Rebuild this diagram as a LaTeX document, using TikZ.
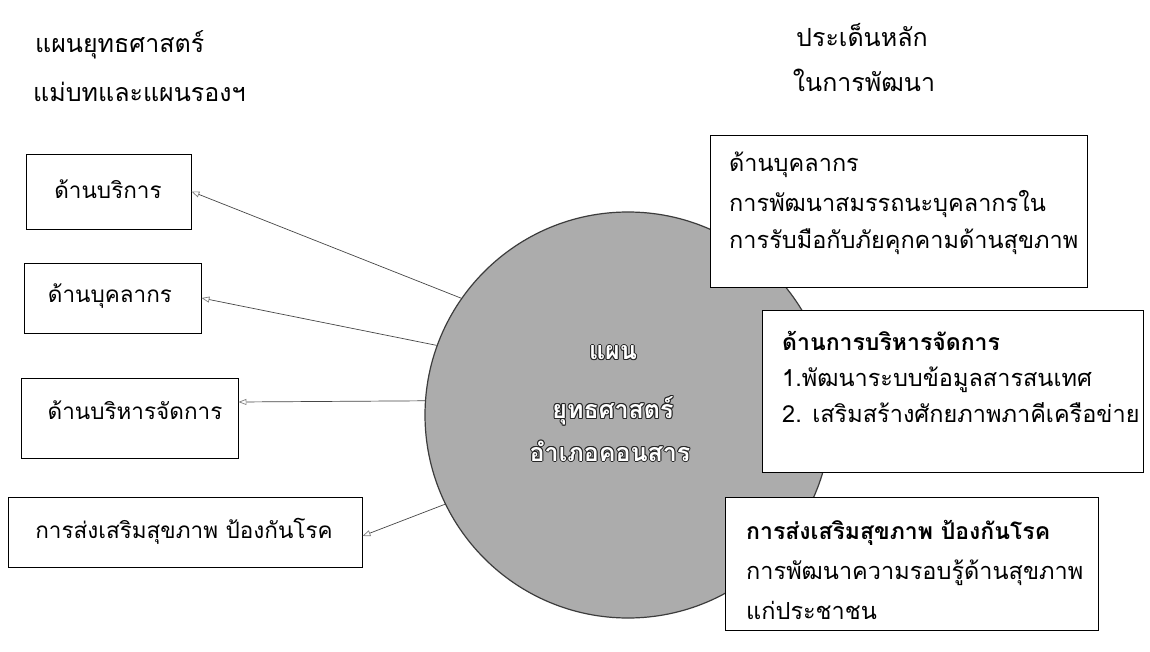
\documentclass[tikz,border=0pt]{standalone}
\usepackage{fontspec}
\newfontfamily\thai[Script=Thai]{Loma}
\usetikzlibrary{arrows.meta}
\tikzset{
  box/.style={draw=black, line width=0.9pt, fill=white, inner sep=0pt},
  txt/.style={font=\thai\fontsize{22.5}{26}\selectfont, inner sep=0pt},
  rtxt/.style={font=\thai\fontsize{23.5}{26}\selectfont, inner sep=0pt},
  htxt/.style={font=\thai\fontsize{25}{28}\selectfont, inner sep=0pt},
  btxt/.style={font=\thai\bfseries\fontsize{23}{26}\selectfont, inner sep=0pt},
  ctxt/.style={font=\thai\bfseries\fontsize{25}{28}\selectfont, inner sep=0pt},
  conn/.style={draw={rgb,255:red,70;green,70;blue,70}, line width=0.7pt,
    -{Triangle[open, length=8pt, width=6pt, color=gray]}},
}
\begin{document}
\begin{tikzpicture}[x=1pt,y=-1pt]
\useasboundingbox (0,0) rectangle (1150,652);
\fill[white] (0,0) rectangle (1150,652);
% headers
\node[htxt, anchor=west] (h1) at (35,45) {แผนยุทธศาสตร์};
\node[htxt, anchor=west] (h2) at (33,92) {แม่บทและแผนรองฯ};
\node[htxt] (h3) at (862,35) {ประเด็นหลัก};
\node[htxt] (h4) at (864,80) {ในการพัฒนา};
% circle
\node[circle, minimum size=406, inner sep=0pt, fill=gray!65, draw={rgb,255:red,60;green,60;blue,60}, line width=1.2pt] (c) at (628,415) {};
% circle text (outlined white)
\foreach \dx/\dy [count=\i] in {-1/0,1/0,0/-1,0/1,-0.75/-0.75,0.75/0.75,-0.75/0.75,0.75/-0.75}{
  \node[ctxt, text=black!85] (s1\i) at (613+\dx,353+\dy) {แผน};
  \node[ctxt, text=black!85] (s2\i) at (613+\dx,411+\dy) {ยุทธศาสตร์};
  \node[ctxt, text=black!85] (s3\i) at (610+\dx,451+\dy) {อำเภอคอนสาร};
}
\node[ctxt, text=white] (t1) at (613,353) {แผน};
\node[ctxt, text=white] (t2) at (613,411) {ยุทธศาสตร์};
\node[ctxt, text=white] (t3) at (610,451) {อำเภอคอนสาร};
% left boxes
\node[box, minimum width=165, minimum height=75] (b1) at (108.5,191.5) {};
\node[txt] (l1) at (108,189) {ด้านบริการ};
\node[box, minimum width=177, minimum height=70] (b2) at (112.5,298) {};
\node[txt] (l2) at (110,296) {ด้านบุคลากร};
\node[box, minimum width=217, minimum height=80] (b3) at (129.5,418) {};
\node[txt] (l3) at (135,410) {ด้านบริหารจัดการ};
\node[box, minimum width=354, minimum height=70] (b4) at (185,532) {};
\node[txt] (l4) at (184,531) {การส่งเสริมสุขภาพ ป้องกันโรค};
% right boxes
\node[box, minimum width=377, minimum height=152] (r1) at (898.5,211) {};
\node[rtxt, anchor=west] (r1a) at (729,165) {ด้านบุคลากร};
\node[rtxt, anchor=west] (r1b) at (729,204) {การพัฒนาสมรรถนะบุคลากรใน};
\node[rtxt, anchor=west] (r1c) at (729,242) {การรับมือกับภัยคุกคามด้านสุขภาพ};
\node[box, minimum width=381, minimum height=162] (r2) at (952.5,391) {};
\node[btxt, anchor=west] (r2a) at (782,341) {ด้านการบริหารจัดการ};
\node[rtxt, anchor=west] (r2b) at (782,380) {1.พัฒนาระบบข้อมูลสารสนเทศ};
\node[rtxt, anchor=west] (r2c) at (782,413) {2. เสริมสร้างศักยภาพภาคีเครือข่าย};
\node[box, minimum width=373, minimum height=133] (r3) at (911.5,563.5) {};
\node[btxt, anchor=west] (r3a) at (746,533) {การส่งเสริมสุขภาพ ป้องกันโรค};
\node[rtxt, anchor=west] (r3b) at (746,573) {การพัฒนาความรอบรู้ด้านสุขภาพ};
\node[rtxt, anchor=west] (r3c) at (746,610) {แก่ประชาชน};
% connectors
\draw[conn] (c.145) -- (b1.east);
\draw[conn] (c.160) -- (b2.east);
\draw[conn] (c.176) -- ([yshift=16pt]b3.east);
\draw[conn] (c.206) -- ([yshift=-4pt]b4.east);
\end{tikzpicture}
\end{document}
